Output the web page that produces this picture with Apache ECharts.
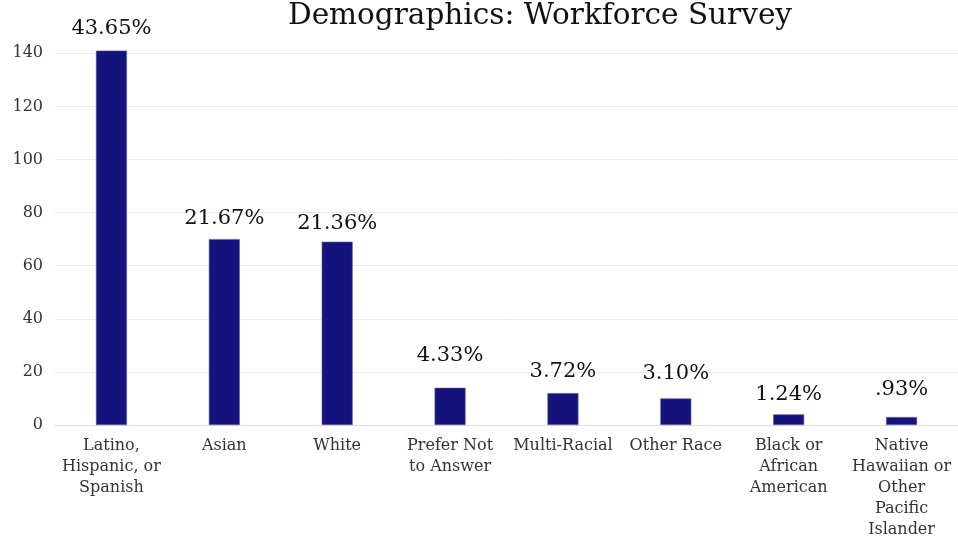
<!DOCTYPE html>
<html>
<head>
<meta charset="utf-8">
<script src="https://cdn.jsdelivr.net/npm/echarts@6/dist/echarts.min.js"></script>
<style>
  html, body { margin: 0; padding: 0; background: #fff; }
  #chart { width: 958px; height: 540px; }
</style>
</head>
<body>
<div id="chart"></div>
<script>
// Workforce survey: respondent counts by race / ethnicity
const categories = [
  'Latino,\nHispanic, or\nSpanish',
  'Asian',
  'White',
  'Prefer Not\nto Answer',
  'Multi-Racial',
  'Other Race',
  'Black or\nAfrican\nAmerican',
  'Native\nHawaiian or\nOther\nPacific\nIslander'
];
const counts = [141, 70, 69, 14, 12, 10, 4, 3];
const shareLabels = ['43.65%', '21.67%', '21.36%', '4.33%', '3.72%', '3.10%', '1.24%', '.93%'];
const yTicks = [0, 20, 40, 60, 80, 100, 120, 140];

// gap (px) between each bar top and its share label
const labelGap = [12, 10, 8, 22, 11, 14, 9, 17];

const serif = '"DejaVu Serif", "Liberation Serif", serif';

const chart = echarts.init(document.getElementById('chart'), null, { renderer: 'canvas' });
chart.setOption({
  animation: false,
  backgroundColor: '#ffffff',
  title: {
    text: 'Demographics: Workforce Survey',
    left: 283,
    top: -4,
    textStyle: { fontFamily: serif, fontSize: 29.5, fontWeight: 'normal', color: '#111' }
  },
  grid: { left: 55, right: 0, top: 32, bottom: 113 },
  xAxis: {
    type: 'category',
    data: categories,
    axisTick: { show: false },
    axisLine: { show: true, lineStyle: { color: '#dddddd', width: 1 } },
    axisLabel: {
      interval: 0,
      margin: 10,
      fontFamily: serif,
      fontSize: 16,
      lineHeight: 21,
      color: '#333'
    }
  },
  yAxis: {
    type: 'value',
    min: 0,
    max: 148,
    interval: 20,
    axisLine: { show: false },
    axisTick: { show: false },
    axisLabel: {
      showMaxLabel: false,
      margin: 12,
      fontFamily: serif,
      fontSize: 16,
      color: '#333',
      formatter: v => (yTicks.indexOf(v) >= 0 ? String(v) : '')
    },
    splitLine: { show: true, showMaxLine: false, lineStyle: { color: '#ebebeb', width: 1 } }
  },
  series: [{
    type: 'bar',
    data: counts.map((v, i) => ({ value: v, label: { distance: labelGap[i] } })),
    barWidth: 31,
    itemStyle: { color: '#14137b', borderColor: '#5a5ab0', borderWidth: 0.6 },
    label: {
      show: true,
      position: 'top',
      fontFamily: serif,
      fontSize: 21,
      color: '#111',
      formatter: p => shareLabels[p.dataIndex]
    }
  }]
});
</script>
</body>
</html>
